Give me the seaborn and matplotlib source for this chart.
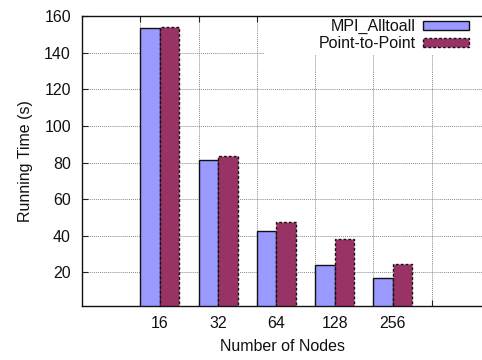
import matplotlib
matplotlib.use("Agg")
import matplotlib.pyplot as plt
from matplotlib.patches import Rectangle
import numpy as np
import pandas as pd
import seaborn as sns

# Running time per node count for the two exchange strategies
nodes = ["16", "32", "64", "128", "256"]
alltoall = [153.3, 81.5, 42.6, 24.0, 17.1]
p2p = [154.2, 83.5, 47.6, 38.0, 24.7]
methods = ["MPI_Alltoall", "Point-to-Point"]
colors = ["#9999ff", "#993366"]
yticks = [20, 40, 60, 80, 100, 120, 140, 160]

df = pd.DataFrame({
    "nodes": nodes * 2,
    "time": alltoall + p2p,
    "method": [methods[0]] * len(nodes) + [methods[1]] * len(nodes),
})

sns.set_style("ticks")
plt.rcParams["font.family"] = ["Liberation Sans", "DejaVu Sans"]
plt.rcParams["font.size"] = 11.5
for key in ["text.color", "axes.labelcolor", "xtick.labelcolor", "ytick.labelcolor"]:
    plt.rcParams[key] = "#111111"

fig = plt.figure(figsize=(4.82, 3.60), dpi=100)
ax = fig.add_axes([82 / 482, 54 / 360, 400 / 482, 290 / 360])

width = 0.67
sns.barplot(data=df, x="nodes", y="time", hue="method", order=nodes,
            hue_order=methods, palette=colors, width=width, dodge=True,
            saturation=1, ax=ax, legend=False, zorder=2)

for cont, ls in zip(ax.containers, ["-", (0, (2, 1.5))]):
    for p in cont:
        p.set_edgecolor("#111111")
        p.set_linewidth(1.0)
        p.set_linestyle(ls)

# cluster boundaries carry the grid and tick marks
bounds = [i - width / 2 for i in range(len(nodes) + 1)]
ax.set_xticks(range(len(nodes)))
ax.set_xticklabels(nodes)
ax.set_xticks(bounds, minor=True)
ax.tick_params(axis="x", which="major", length=0, pad=7, labelsize=11.5)
ax.tick_params(axis="x", which="minor", direction="in", length=4, width=0.8,
               top=True, bottom=True, color="#222222")
ax.set_yticks(yticks)
ax.tick_params(axis="y", direction="in", length=4, width=0.8, pad=8,
               labelsize=11.5, color="#222222")

ax.set_xlim(-1 - width / 2, 5.528)
ax.set_ylim(1.7, 160)

ax.set_axisbelow(True)
grid_kw = dict(color="#8a8a8a", linestyle=(0, (1, 1)), linewidth=0.7)
ax.yaxis.grid(True, which="major", **grid_kw)
ax.xaxis.grid(True, which="minor", **grid_kw)
ax.xaxis.grid(False, which="major")

for side in ["left", "bottom", "top"]:
    ax.spines[side].set_linewidth(1.0)
    ax.spines[side].set_color("#111111")
ax.spines["right"].set_visible(False)

ax.set_xlabel("Number of Nodes", fontsize=11.5, labelpad=6)
ax.set_ylabel("Running Time (s)", fontsize=11.5, labelpad=8)

# key area is kept clear of the grid
ax.add_patch(Rectangle((264 / 482, 1 - 55 / 360), 218 / 482, 39 / 360,
                       transform=fig.transFigure, facecolor="white",
                       edgecolor="none", zorder=1))

leg = ax.legend(handles=list(ax.containers), labels=methods,
                loc="upper right", bbox_to_anchor=(0.968, 0.99),
                frameon=False, markerfirst=False, fontsize=11.5,
                handlelength=2.9, handleheight=0.5, handletextpad=0.45,
                labelspacing=0.15, borderpad=0, borderaxespad=0)

fig.savefig("out.png", dpi=100)
